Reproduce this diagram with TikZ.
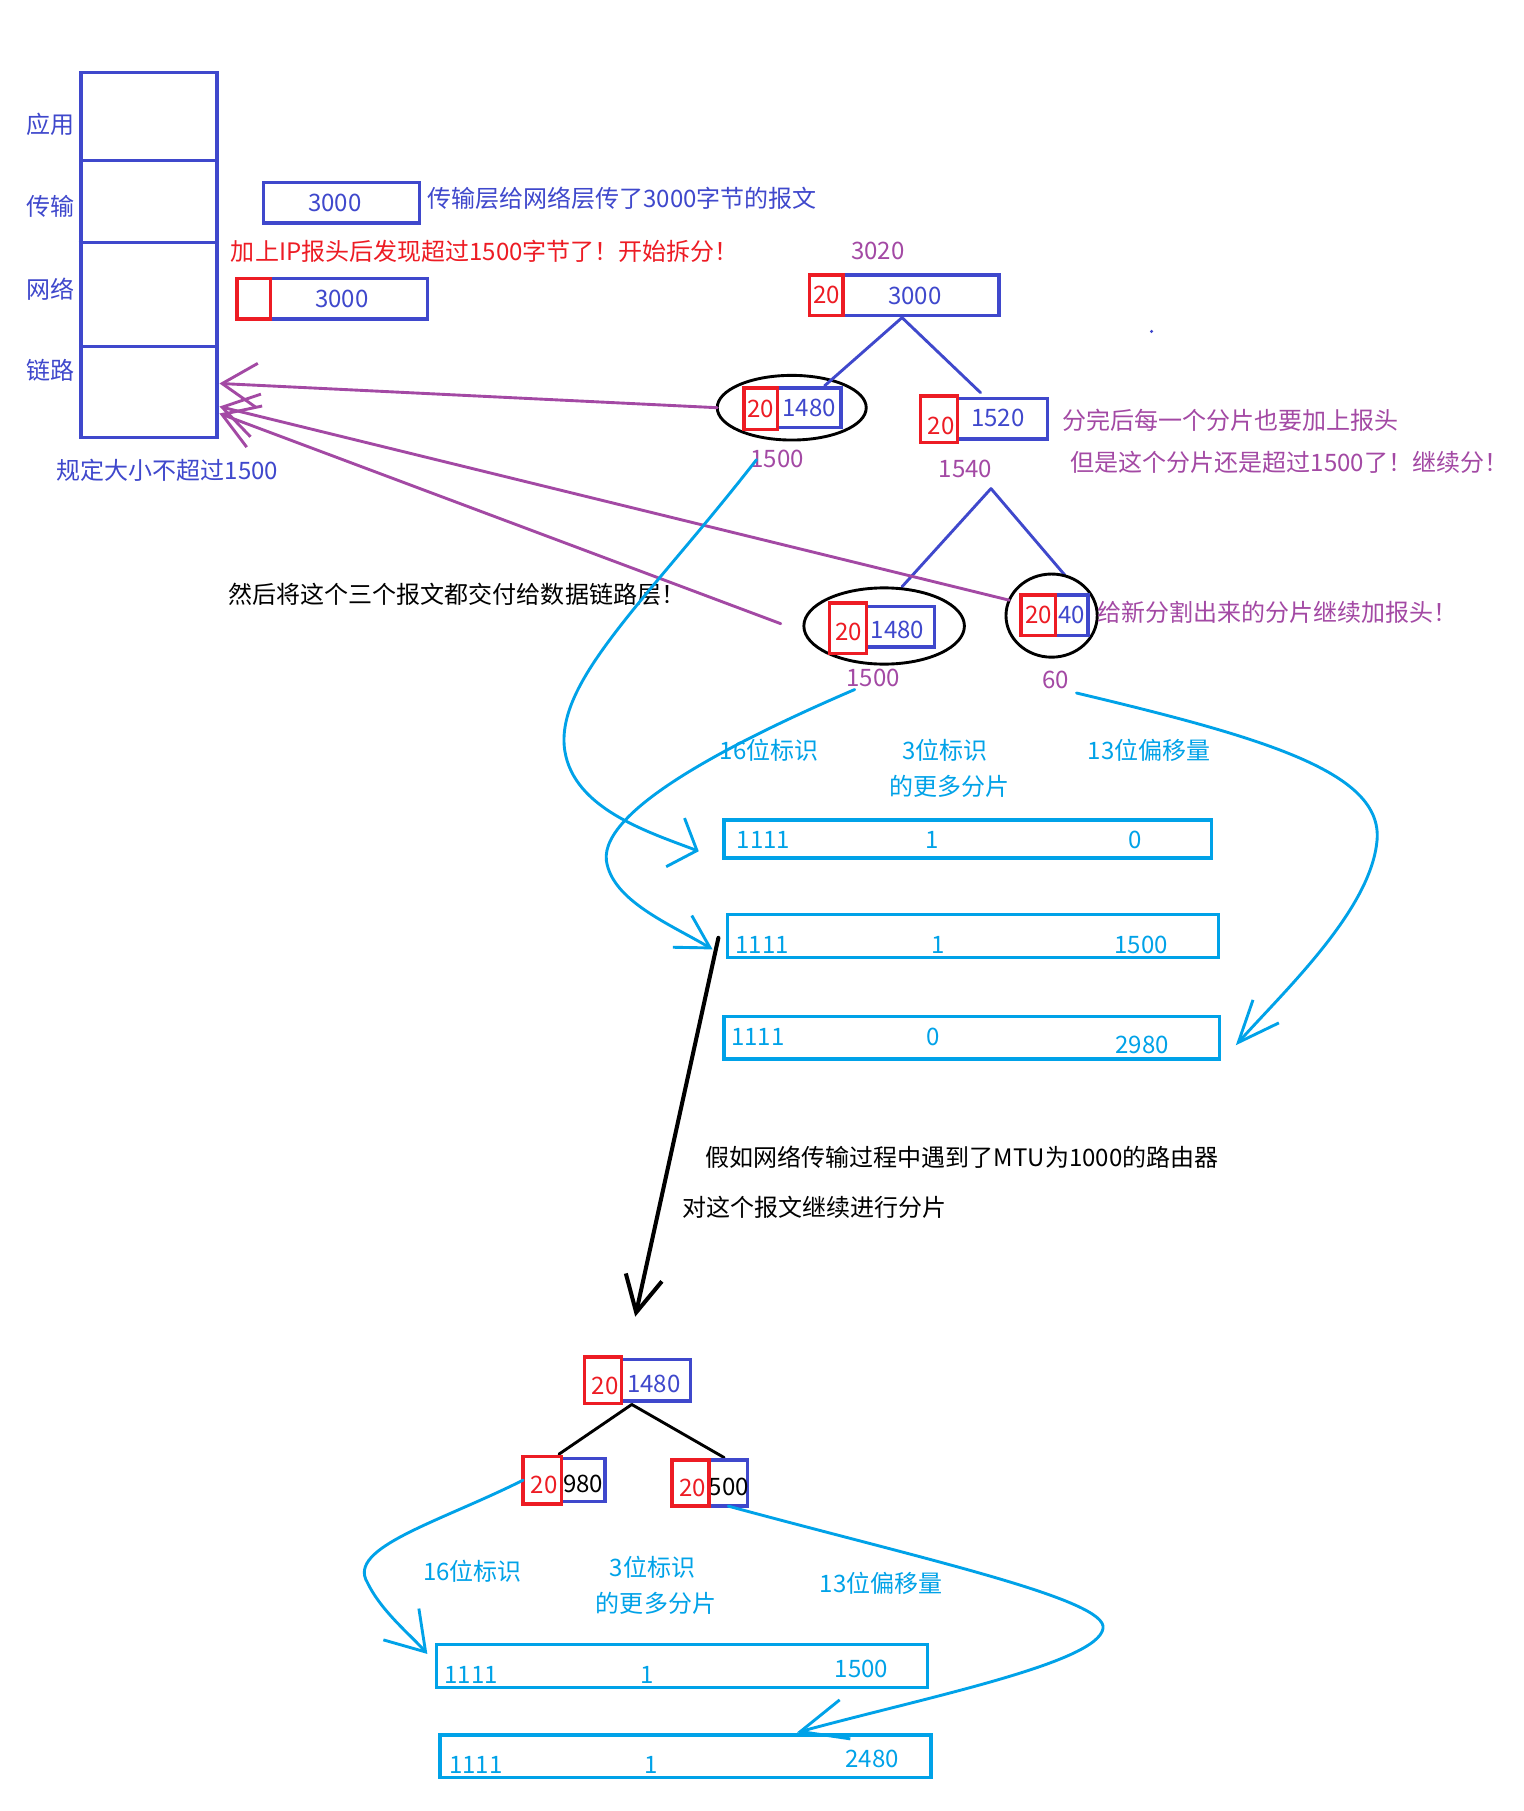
\documentclass[tikz,border=0pt]{standalone}
\usepackage{fontspec}
\setmainfont{Noto Sans CJK SC}
\usetikzlibrary{shapes.geometric,arrows.meta}
\definecolor{indi}{RGB}{63,72,204}
\definecolor{redp}{RGB}{237,28,36}
\definecolor{purp}{RGB}{163,73,164}
\definecolor{cyanp}{RGB}{0,162,232}
\begin{document}
\begin{tikzpicture}[x=1pt,y=-1pt,
  every node/.style={font=\fontsize{20.8pt}{25pt}\selectfont, inner sep=0pt, outer sep=0pt},
  bbox/.style={draw=indi, line width=3pt, rectangle, text=indi},
  rbox/.style={draw=redp, line width=3pt, rectangle, text=redp},
  cbox/.style={draw=cyanp, line width=3pt, rectangle},
  ell/.style={draw=black, line width=2.5pt, ellipse},
  btxt/.style={text=indi},
  ptxt/.style={text=purp},
  ctxt/.style={text=cyanp},
  rtxt/.style={text=redp},
  treeline/.style={draw=indi, line width=2.5pt, line cap=round},
  blkline/.style={draw=black, line width=2.5pt, line cap=round},
  parrow/.style={draw=purp, line width=2.5pt, line cap=round, -{Straight Barb[length=30pt,width=38pt]}},
  carrow/.style={draw=cyanp, line width=2.5pt, line cap=round},
]
\useasboundingbox (0,0) rectangle (1319,1568);
\fill[white] (0,0) rectangle (1319,1568);

% ---------- protocol stack ----------
\node[draw=indi, line width=3pt, minimum width=118pt, minimum height=316pt] (stack) at (129,221) {};
\coordinate (d1l) at (70,139);  \coordinate (d1r) at (188,139);
\coordinate (d2l) at (68,210);  \coordinate (d2r) at (188,210);
\coordinate (d3l) at (70,300);  \coordinate (d3r) at (190,300);
\draw[indi, line width=3pt] (d1l) -- (d1r);
\draw[indi, line width=3pt] (d2l) -- (d2r);
\draw[indi, line width=3pt] (d3l) -- (d3r);
\node[btxt] (lapp) at (44,108) {应用};
\node[btxt] (ltra) at (44,179) {传输};
\node[btxt] (lnet) at (44,250) {网络};
\node[btxt] (llnk) at (44,321) {链路};
\node[btxt] (limit) at (145,407) {规定大小不超过1500};
\fill[indi] (997,287) circle (1.5pt);

% ---------- first boxes ----------
\node[bbox, minimum width=135pt, minimum height=35pt] (t3000) at (295.5,175.5) {};
\node[btxt] (t3000t) at (290,176) {3000};
\node[btxt, anchor=west] (ttxt) at (370,172) {传输层给网络层传了3000字节的报文};
\node[rtxt, anchor=west] (redtxt) at (200,218) {加上IP报头后发现超过1500字节了！开始拆分！};
\node[bbox, minimum width=136pt, minimum height=35pt] (n3000) at (302,258.5) {};
\node[btxt] (n3000t) at (296,259) {3000};
\node[rbox, minimum width=29pt, minimum height=35pt] (h0) at (219.5,258.5) {};

% ---------- first split ----------
\node[ptxt] (l3020) at (760,217) {3020};
\node[bbox, minimum width=135pt, minimum height=35pt] (top) at (797.5,255.5) {};
\node[btxt] (topt) at (792,256) {3000};
\node[rbox, minimum width=29pt, minimum height=35pt] (toph) at (715.5,255.5) {20};

\node[ell, minimum width=129pt, minimum height=56pt] (e1) at (685.5,353) {};
\node[bbox, minimum width=55pt, minimum height=34pt] (f1) at (700.5,353) {1480};
\node[rbox, minimum width=29pt, minimum height=36pt] (f1h) at (658.5,354) {20};
\node[ptxt] (l1500a) at (673,397) {1500};

\node[bbox, minimum width=78pt, minimum height=35pt] (f2) at (868,362.5) {};
\node[btxt] (f2t) at (864,362) {1520};
\node[rbox, minimum width=32pt, minimum height=40pt] (f2h) at (813,363) {};
\node[rtxt] (f2ht) at (815,369) {20};
\node[ptxt] (l1540) at (836,406) {1540};
\node[ptxt, anchor=west] (note1) at (920,364) {分完后每一个分片也要加上报头};
\node[ptxt, anchor=west] (note2) at (927,400) {但是这个分片还是超过1500了！继续分！};

\coordinate (j1) at (781,275);
\coordinate (c1) at (714,334);
\coordinate (c2) at (849,340);
\draw[treeline] (j1) -- (c1);
\draw[treeline] (j1) -- (c2);

% ---------- second split ----------
\coordinate (j2) at (858,423);
\coordinate (c3) at (781,508);
\coordinate (c4) at (922,498);
\draw[treeline] (j2) -- (c3);
\draw[treeline] (j2) -- (c4);

\node[ell, minimum width=139pt, minimum height=66pt] (e2) at (765.5,542) {};
\node[bbox, minimum width=59pt, minimum height=35pt] (g1) at (779.5,542.5) {};
\node[btxt] (g1t) at (777,545) {1480};
\node[rbox, minimum width=32pt, minimum height=44pt] (g1h) at (734,544) {};
\node[rtxt] (g1ht) at (735,547) {20};
\node[ptxt] (l1500b) at (756,587) {1500};

\node[ell, minimum width=79pt, minimum height=72pt] (e3) at (910.5,533) {};
\node[bbox, minimum width=28pt, minimum height=35pt] (g2) at (928,532.5) {40};
\node[rbox, minimum width=30pt, minimum height=35pt] (g2h) at (899,532.5) {20};
\node[ptxt] (l60) at (914,589) {60};
\node[ptxt, anchor=west] (note3) at (950,530) {给新分割出来的分片继续加报头！};

\node[anchor=west] (deliver) at (198,515) {然后将这个三个报文都交付给数据链路层！};

% ---------- purple arrows to link layer ----------
\coordinate (pa) at (190,332);
\coordinate (pb) at (190,352);
\coordinate (pc) at (190,358);
\coordinate (pcs) at (676,540);
\draw[parrow] (e1.west) -- (pa);
\draw[parrow] (e3.160) -- (pb);
\draw[parrow] (pcs) -- (pc);

% ---------- header fields (first) ----------
\node[ctxt] (h16a) at (666,650) {16位标识};
\node[ctxt] (h3a) at (818,650) {3位标识};
\node[ctxt] (h3b) at (822,681) {的更多分片};
\node[ctxt] (h13a) at (995,650) {13位偏移量};

\node[cbox, minimum width=422pt, minimum height=33pt] (r1) at (838,726.5) {};
\node[ctxt] (r1a) at (661,727) {1111};
\node[ctxt] (r1b) at (807,727) {1};
\node[ctxt] (r1c) at (983,727) {0};

\node[cbox, minimum width=425pt, minimum height=37pt] (r2) at (842.5,810.5) {};
\node[ctxt] (r2a) at (660,818) {1111};
\node[ctxt] (r2b) at (812,818) {1};
\node[ctxt] (r2c) at (988,818) {1500};

\node[cbox, minimum width=429pt, minimum height=37pt] (r3) at (841.5,898.5) {};
\node[ctxt] (r3a) at (656,898) {1111};
\node[ctxt] (r3b) at (808,898) {0};
\node[ctxt] (r3c) at (989,905) {2980};

% cyan curves (first)
\coordinate (cs1) at (655,398);
\coordinate (ce1) at (605,737);
\draw[carrow, -{Straight Barb[length=20pt,width=45pt]}] (cs1) .. controls (560,520) and (480,590) .. (489,650) .. controls (497,700) and (560,720) .. (ce1);
\coordinate (cs2) at (740,597);
\coordinate (ce2) at (617,822);
\draw[carrow, -{Straight Barb[length=28pt,width=32pt]}] (cs2) .. controls (640,640) and (520,700) .. (525,745) .. controls (530,780) and (580,800) .. (ce2);
\coordinate (cs3) at (932,600);
\coordinate (ce3) at (1070,905);
\draw[carrow, -{Straight Barb[length=36pt,width=30pt]}] (cs3) .. controls (1100,640) and (1200,670) .. (1192,730) .. controls (1185,790) and (1110,860) .. (ce3);

% ---------- black arrow ----------
\coordinate (bs) at (622,812);
\coordinate (be) at (550,1140);
\draw[black, line width=3.5pt, line cap=round, -{Straight Barb[length=31pt,width=32pt]}] (bs) -- (be);

\node[anchor=west] (mtu) at (611,1002) {假如网络传输过程中遇到了MTU为1000的路由器};
\node[anchor=west] (cont) at (591,1045) {对这个报文继续进行分片};

% ---------- bottom tree ----------
\node[bbox, minimum width=60pt, minimum height=36pt] (k0) at (568,1195) {};
\node[btxt] (k0t) at (566,1198) {1480};
\node[rbox, minimum width=32pt, minimum height=40pt] (k0h) at (522,1195) {};
\node[rtxt] (k0ht) at (524,1200) {20};

\coordinate (j3) at (547,1216);
\coordinate (c5) at (484,1259);
\coordinate (c6) at (627,1262);
\draw[blkline] (j3) -- (c5);
\draw[blkline] (j3) -- (c6);

\node[bbox, minimum width=38pt, minimum height=37pt] (k1) at (505,1281.5) {};
\node (k1t) at (505,1285) {980};
\node[rbox, minimum width=33pt, minimum height=41pt] (k1h) at (469.5,1281.5) {};
\node[rtxt] (k1ht) at (471,1286) {20};

\node[bbox, minimum width=33pt, minimum height=40pt] (k2) at (630.5,1284) {};
\node (k2t) at (631,1287) {500};
\node[rbox, minimum width=32pt, minimum height=40pt] (k2h) at (598,1284) {};
\node[rtxt] (k2ht) at (600,1288) {20};

% ---------- header fields (second) ----------
\node[ctxt] (h16b) at (409,1360) {16位标识};
\node[ctxt] (h3c) at (565,1357) {3位标识};
\node[ctxt] (h3d) at (568,1388) {的更多分片};
\node[ctxt] (h13b) at (763,1371) {13位偏移量};

\node[cbox, minimum width=425pt, minimum height=37pt] (s1) at (590.5,1442.5) {};
\node[ctxt] (s1a) at (408,1450) {1111};
\node[ctxt] (s1b) at (560,1450) {1};
\node[ctxt] (s1c) at (746,1445) {1500};

\node[cbox, minimum width=425pt, minimum height=37pt] (s2) at (593.5,1520.5) {};
\node[ctxt] (s2a) at (412,1528) {1111};
\node[ctxt] (s2b) at (564,1528) {1};
\node[ctxt] (s2c) at (755,1523) {2480};

% cyan curves (second)
\coordinate (ce4) at (370,1432);
\draw[carrow, -{Straight Barb[length=32pt,width=41pt]}] (k1h.west) .. controls (380,1318) and (300,1340) .. (318,1370) .. controls (330,1395) and (355,1415) .. (ce4);
\coordinate (ce5) at (690,1500);
\draw[carrow, -{Straight Barb[length=40pt,width=35pt]}] (k2.south) .. controls (800,1350) and (960,1385) .. (955,1410) .. controls (950,1440) and (800,1470) .. (ce5);

\end{tikzpicture}
\end{document}
